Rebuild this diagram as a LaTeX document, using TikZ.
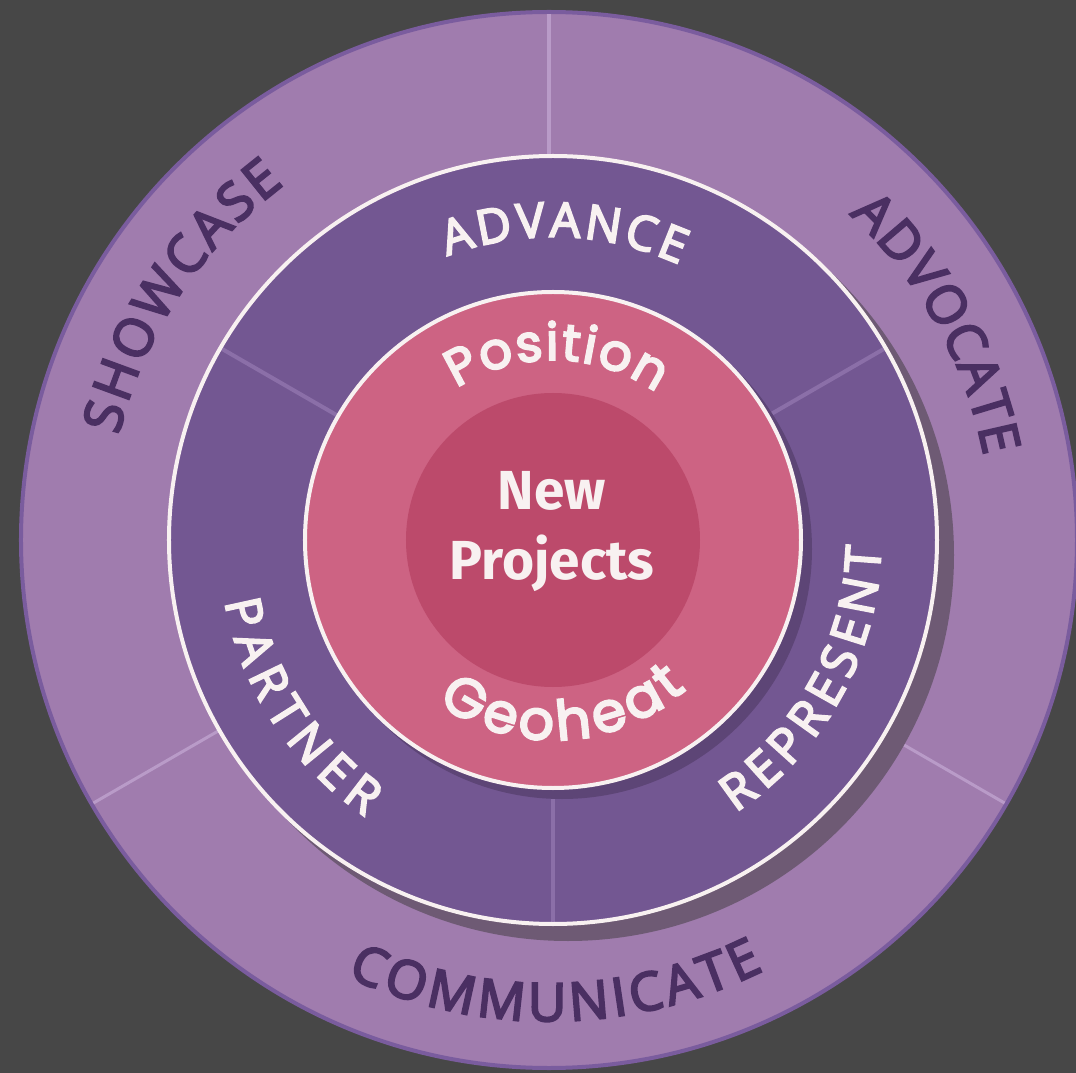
\documentclass[tikz,border=0pt]{standalone}
\usepackage{fontspec}
\usetikzlibrary{decorations.text}
\newfontfamily\ringfont{Open Sans}[FakeBold=4]
\newfontfamily\roundfont{Poppins}[FakeBold=4]
\newfontfamily\centerfont{Fira Sans}
\definecolor{bg}{HTML}{474747}
\definecolor{outerring}{HTML}{A07CAE}
\definecolor{outeredge}{HTML}{7A5C9E}
\definecolor{outerdiv}{HTML}{B99BC8}
\definecolor{midring}{HTML}{735792}
\definecolor{middiv}{HTML}{8B6FA8}
\definecolor{ringwhite}{HTML}{F8F1F1}
\definecolor{shadowA}{HTML}{6E5A74}
\definecolor{shadowB}{HTML}{5D4576}
\definecolor{pinkring}{HTML}{CD6383}
\definecolor{pinkcore}{HTML}{BC4A6B}
\definecolor{outertext}{HTML}{4A2F62}
\tikzset{
  outerword/.style={decorate, decoration={text along path, text align=center, text color=outertext}},
  midword/.style={decorate, decoration={text along path, text align=center, text color=ringwhite}},
  divline/.style={line width=3pt},
}
\begin{document}
\begin{tikzpicture}[x=1pt,y=1pt]
\path[use as bounding box, fill=bg] (-553,-533) rectangle (523,540);
\coordinate (O) at (0,0);
\coordinate (Oo) at (-4,0);
% outer ring
\draw[fill=outerring, draw=outeredge, line width=4pt] (Oo) circle[radius=528];
\foreach \a in {90,210,330}
  \draw[divline, outerdiv] (Oo) -- ([shift={(Oo)}]\a:526);
% shadow of middle ring
\fill[shadowA] (15,-15) circle[radius=386];
% middle ring
\fill[midring] (O) circle[radius=384];
\foreach \a in {30,150,270}
  \draw[line width=4pt, middiv] (O) -- (\a:382);
\draw[ringwhite, line width=4pt] (O) circle[radius=384];
% pink circles
\fill[shadowB] (9,-9) circle[radius=250];
\draw[fill=pinkring, draw=ringwhite, line width=4pt] (O) circle[radius=248];
\fill[pinkcore] (O) circle[radius=147];
% outer words
\path[outerword, decoration={text={|\ringfont\fontsize{53}{53}\selectfont\kern3.2pt|SHOWCASE}}]
  ([shift={(Oo)}]216.7:443) arc[start angle=216.7, end angle=76.7, radius=443];
\path[outerword, decoration={text={|\ringfont\fontsize{53}{53}\selectfont\kern1.5pt|ADVOCATE}}]
  ([shift={(Oo)}]99.2:443) arc[start angle=99.2, end angle=-40.8, radius=443];
\path[outerword, decoration={text={|\ringfont\fontsize{53}{53}\selectfont\kern4.2pt|COMMUNICATE}}]
  ([shift={(Oo)}]200.6:481) arc[start angle=200.6, end angle=340.6, radius=481];
% middle words
\path[midword, decoration={text={|\ringfont\fontsize{48}{48}\selectfont\kern3.5pt|ADVANCE}}]
  (158.2:303) arc[start angle=158.2, end angle=18.2, radius=303];
\path[midword, decoration={text={|\ringfont\fontsize{49}{49}\selectfont\kern8.5pt|PARTNER}}]
  (142.5:334) arc[start angle=142.5, end angle=282.5, radius=334];
\path[midword, decoration={text={|\ringfont\fontsize{49}{49}\selectfont\kern6.5pt|REPRESENT}}]
  (260.7:328) arc[start angle=260.7, end angle=400.7, radius=328];
% pink words
\path[midword, decoration={text={|\roundfont\fontsize{51}{51}\selectfont\kern2pt|Position}}]
  (159:180) arc[start angle=159, end angle=19, radius=180];
\path[midword, decoration={text={|\roundfont\fontsize{55}{55}\selectfont\kern5pt|Geoheat}}]
  (202.6:200) arc[start angle=202.6, end angle=342.6, radius=200];
% centre
\node[anchor=base, text=ringwhite, font=\centerfont\bfseries\fontsize{55}{55}\selectfont, inner sep=0pt] (new) at (-1,30) {New};
\node[anchor=base, text=ringwhite, font=\centerfont\bfseries\fontsize{55}{55}\selectfont, inner sep=0pt] (proj) at (-1,-40) {Projects};
\end{tikzpicture}
\end{document}
